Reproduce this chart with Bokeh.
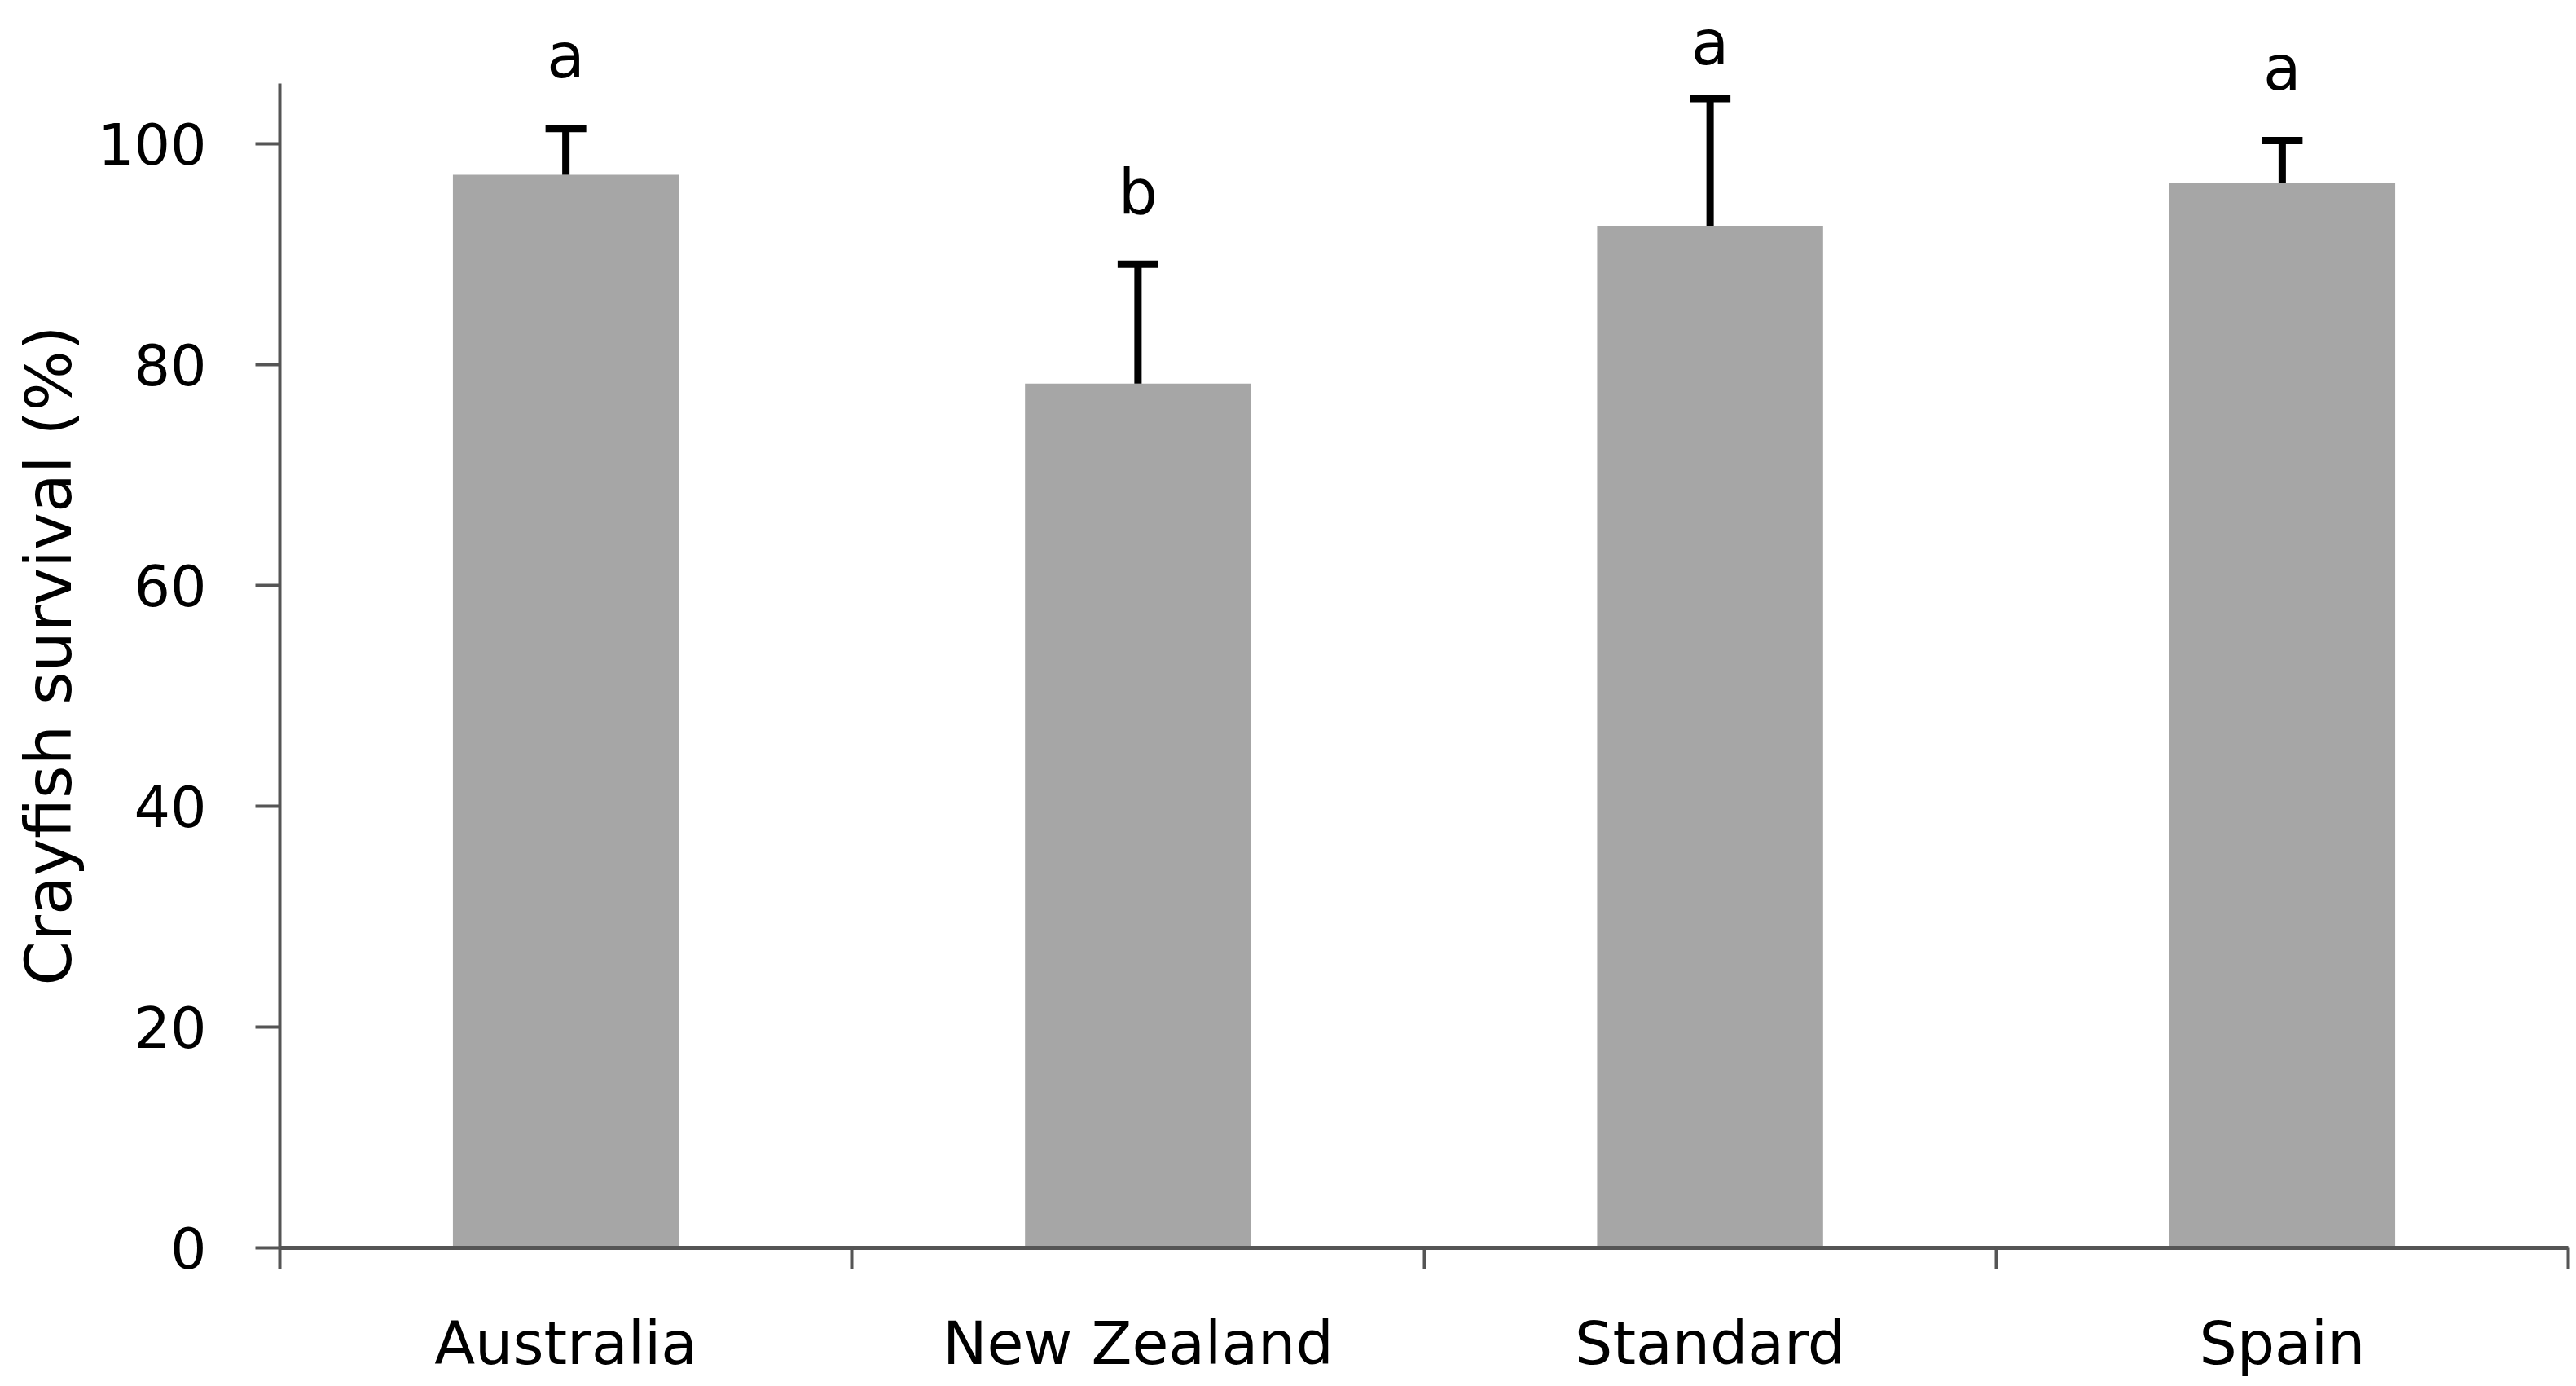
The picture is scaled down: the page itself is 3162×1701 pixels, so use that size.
from bokeh.plotting import figure
from bokeh.models import ColumnDataSource, FixedTicker, Range1d, Whisker, TeeHead, LabelSet, Title
from bokeh.core.properties import value
from bokeh.embed import file_html
from bokeh.resources import INLINE

# ---- data ----
categories = ["Australia", "New Zealand", "Standard", "Spain"]
survival = [97.2, 78.3, 92.6, 96.5]      # mean crayfish survival (%)
error = [4.2, 10.8, 11.5, 3.8]           # upper error bar length
letters = ["a", "b", "a", "a"]           # significance groups
y_ticks = [0, 20, 40, 60, 80, 100]
y_title = "Crayfish survival (%)"

FONT = "DejaVu Sans"
AXIS_COLOR = "#555555"
Y_VIEW_TOP = 113.0     # room above the axis for the letters
Y_AXIS_TOP = 105.5     # where the drawn y axis line stops
LETTER_GAP = 4.6       # letters sit this far above the error bar
LETTER_MAX = 107.2     # ...but never so high that they leave the picture

centers = [i + 0.5 for i in range(len(categories))]
bounds = list(range(len(categories) + 1))
upper = [m + e for m, e in zip(survival, error)]
letter_y = [min(u + LETTER_GAP, LETTER_MAX) for u in upper]

src = ColumnDataSource(dict(x=centers, top=survival, upper=upper,
                            letter=letters, letter_y=letter_y))

p = figure(width=3162, height=1701, output_backend="svg", toolbar_location=None,
           x_range=Range1d(0, len(categories)), y_range=Range1d(0, Y_VIEW_TOP),
           min_border_left=343, min_border_right=10, min_border_top=0, min_border_bottom=170)

p.vbar(x="x", top="top", bottom=0, width=0.395, source=src,
       fill_color="#a6a6a6", line_color=None)

whisk = Whisker(source=src, base="x", lower="top", upper="upper", dimension="height",
                line_color="black", line_width=9, level="annotation",
                upper_head=TeeHead(size=50, line_color="black", line_width=9),
                lower_head=None)
p.add_layout(whisk)

labels = LabelSet(source=src, x="x", y="letter_y", text="letter",
                  text_align="center", text_baseline="alphabetic",
                  text_font=value(FONT), text_font_size=value("76px"), text_color="black")
p.add_layout(labels)

# x axis: labels at category centres, ticks at boundaries
xa = p.xaxis[0]
xa.ticker = FixedTicker(ticks=centers, minor_ticks=bounds)
xa.major_label_overrides = {c: n for c, n in zip(centers, categories)}
xa.major_tick_line_color = None
xa.major_tick_out = 26
xa.major_tick_in = 0
xa.minor_tick_out = 26
xa.minor_tick_in = 0
xa.minor_tick_line_color = AXIS_COLOR
xa.minor_tick_line_width = 4
xa.axis_line_color = AXIS_COLOR
xa.axis_line_width = 5
xa.major_label_text_font = FONT
xa.major_label_text_font_size = "73px"
xa.major_label_text_color = "black"
xa.major_label_standoff = 48

ya = p.yaxis[0]
ya.ticker = FixedTicker(ticks=y_ticks)
ya.bounds = (0, Y_AXIS_TOP)
ya.minor_tick_line_color = None
ya.major_tick_out = 30
ya.major_tick_in = 0
ya.major_tick_line_color = AXIS_COLOR
ya.major_tick_line_width = 4
ya.axis_line_color = AXIS_COLOR
ya.axis_line_width = 4
ya.major_label_text_font = FONT
ya.major_label_text_font_size = "70px"
ya.major_label_text_color = "black"
ya.major_label_standoff = 60

# y title as a side title so it can be placed along the drawn axis, not the frame
ytitle = Title(text=y_title, align="left", vertical_align="top", offset=322, standoff=20,
               text_font=FONT, text_font_size="78px", text_font_style="normal",
               text_color="black")
p.add_layout(ytitle, "left")

p.grid.visible = False
p.outline_line_color = None
p.background_fill_color = "white"
p.border_fill_color = "white"

open("out.html", "w").write(file_html(p, INLINE))
